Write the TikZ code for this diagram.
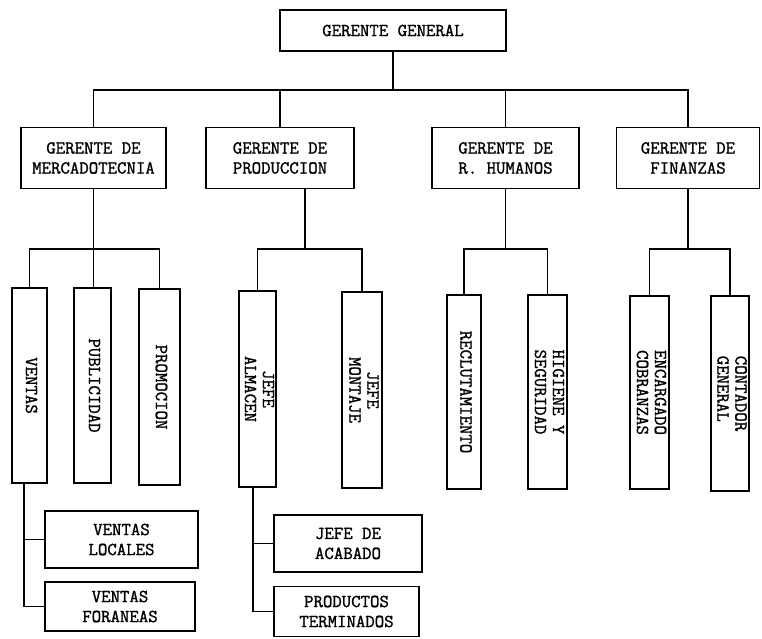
\documentclass[tikz,border=0pt]{standalone}
\usepackage{fontspec}
\usepackage{graphicx}
\newfontfamily\tw[FakeBold=1.3]{Latin Modern Mono}
\newcommand{\vtext}[2][c]{\rotatebox[origin=c]{-90}{\begin{tabular}{@{}#1@{}}#2\end{tabular}}}
\tikzset{
  box/.style={draw, line width=1.6pt, rectangle, inner sep=0pt, align=center,
    font=\tw\fontsize{18.3}{20}\selectfont},
  vbox/.style={box, font=\tw\fontsize{18.3}{18}\selectfont},
  conn/.style={line width=1.6pt}
}
\begin{document}
\begin{tikzpicture}[x=1pt,y=-1pt]
\useasboundingbox (0,0) rectangle (762,638);
% level 1
\node[box, minimum width=226pt, minimum height=41pt] (gg) at (393,30.5) {GERENTE GENERAL};
% level 2
\node[box, minimum width=145pt, minimum height=61pt] (gm) at (93.5,158) {GERENTE DE\\MERCADOTECNIA};
\node[box, minimum width=148pt, minimum height=61pt] (gp) at (280,158) {GERENTE DE\\PRODUCCION};
\node[box, minimum width=147pt, minimum height=61pt] (gr) at (505.5,158) {GERENTE DE\\R. HUMANOS};
\node[box, minimum width=143pt, minimum height=61pt] (gf) at (688,158) {GERENTE DE\\FINANZAS};
% level 3
\node[vbox, minimum width=35pt, minimum height=195pt] (ventas) at (29.5,385.5) {\vtext{VENTAS}};
\node[vbox, minimum width=37pt, minimum height=195pt] (publicidad) at (92.5,385.5) {\vtext{PUBLICIDAD}};
\node[vbox, minimum width=41pt, minimum height=196pt] (promocion) at (159.5,387) {\vtext{PROMOCION}};
\node[vbox, minimum width=37pt, minimum height=196pt] (almacen) at (257.5,389) {\vtext{JEFE\\ALMACEN}};
\node[vbox, minimum width=40pt, minimum height=196pt] (montaje) at (362,390) {\vtext{JEFE\\MONTAJE}};
\node[vbox, minimum width=34pt, minimum height=194pt] (reclut) at (464,392) {\vtext{RECLUTAMIENTO}};
\node[vbox, minimum width=39pt, minimum height=194pt] (higiene) at (547.5,392) {\vtext{HIGIENE Y\\SEGURIDAD}};
\node[vbox, minimum width=39pt, minimum height=193pt] (encargado) at (649.5,392.5) {\vtext{ENCARGADO\\COBRANZAS}};
\node[vbox, minimum width=38pt, minimum height=195pt] (contador) at (730,393.5) {\vtext[l]{CONTADOR\\GENERAL}};
% level 4
\node[box, minimum width=153pt, minimum height=57pt] (vlocales) at (121.5,539.5) {VENTAS\\LOCALES};
\node[box, minimum width=150pt, minimum height=49pt] (vforaneas) at (120,606.5) {VENTAS\\FORANEAS};
\node[box, minimum width=148pt, minimum height=57pt] (acabado) at (348,543.5) {JEFE DE\\ACABADO};
\node[box, minimum width=145pt, minimum height=50pt] (productos) at (346.5,611.5) {PRODUCTOS\\TERMINADOS};
% connectors level 1-2
\coordinate (b1) at (393,90);
\draw[conn] (gg.south) -- (b1);
\draw[conn] (gm.north) -- (gm.north |- b1) -- (gf.north |- b1) -- (gf.north);
\draw[conn] (gp.north) -- (gp.north |- b1);
\draw[conn] (gr.north) -- (gr.north |- b1);
% mercadotecnia
\coordinate (m1) at (93,249);
\draw[conn] (gm.south) -- (gm.south |- publicidad.north);
\draw[conn] (ventas.north) -- (ventas.north |- m1) -- (promocion.north |- m1) -- (promocion.north);
% produccion
\coordinate (p1) at (305,249);
\draw[conn] (gp.south -| p1) -- (p1);
\draw[conn] (almacen.north) -- (almacen.north |- p1) -- (montaje.north |- p1) -- (montaje.north);
% r. humanos
\coordinate (r1) at (505.5,249);
\draw[conn] (gr.south) -- (r1);
\draw[conn] (reclut.north) -- (reclut.north |- r1) -- (higiene.north |- r1) -- (higiene.north);
% finanzas
\coordinate (f1) at (688,249);
\draw[conn] (gf.south) -- (f1);
\draw[conn] (encargado.north) -- (encargado.north |- f1) -- (contador.north |- f1) -- (contador.north);
% ventas children
\coordinate (vv) at (24,606.5);
\draw[conn] (ventas.south -| vv) -- (vv) -- (vforaneas.west);
\draw[conn] (vv |- vlocales.west) -- (vlocales.west);
% almacen children
\coordinate (aa) at (253,611.5);
\draw[conn] (almacen.south -| aa) -- (aa) -- (productos.west);
\draw[conn] (aa |- acabado.west) -- (acabado.west);
\end{tikzpicture}
\end{document}
